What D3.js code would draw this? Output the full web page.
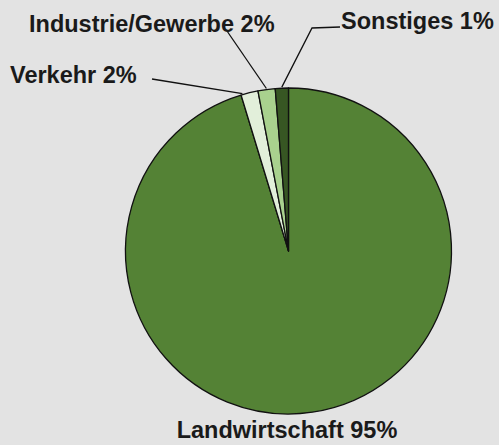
<!DOCTYPE html>
<html>
<head>
<meta charset="utf-8">
<script src="https://cdn.jsdelivr.net/npm/d3@7"></script>
<style>
  html, body { margin: 0; padding: 0; background: #e3e3e3; }
  svg { display: block; }
  text { font-family: "Liberation Sans", Arial, sans-serif; font-weight: bold; fill: #1a1a1a; }
</style>
</head>
<body>
<div id="chart"></div>
<script>
var w = 499, h = 445;

// data
var categories = ["Landwirtschaft", "Verkehr", "Industrie/Gewerbe", "Sonstiges"];
var values = [95.3, 1.7, 1.7, 1.3];
var labels = ["Landwirtschaft 95%", "Verkehr 2%", "Industrie/Gewerbe 2%", "Sonstiges 1%"];
var colors = ["#548235", "#e2efda", "#a9d18e", "#375623"];

// label layout (x, y of text, anchor, leader start, where the leader hits the slice)
var labelPos = [
  {x: 287, y: 438, anchor: "middle", line: null, t: 0.5},
  {x: 10, y: 83, anchor: "start", line: [[152, 79]], t: 0.1},
  {x: 29, y: 32, anchor: "start", line: [[227, 31]], t: 0.5},
  {x: 341, y: 29, anchor: "start", line: [[340, 27], [312, 28]], t: 0.5}
];

var cx = 288.5, cy = 251, r = 163;

var svg = d3.select("#chart")
  .append("svg")
  .attr("width", w)
  .attr("height", h);

svg.append("rect")
  .attr("width", w)
  .attr("height", h)
  .style("fill", "#e3e3e3");

var pie = d3.pie().sort(null).value(function(d) { return d; });
var arcs = pie(values);
var arc = d3.arc().innerRadius(0).outerRadius(r);

var g = svg.append("g")
  .attr("transform", "translate(" + cx + "," + cy + ")");

g.selectAll(".slice")
  .data(arcs)
  .enter()
  .append("path")
  .attr("class", "slice")
  .attr("d", arc)
  .style("fill", function(d, i) { return colors[i]; })
  .style("stroke", "#111")
  .style("stroke-width", 1.3)
  .style("stroke-linejoin", "round");

// leader lines
arcs.forEach(function(d, i) {
  var p = labelPos[i];
  if (!p.line) return;
  var a = d.startAngle + (d.endAngle - d.startAngle) * p.t;
  var end = [cx + (r + 1) * Math.sin(a), cy - (r + 1) * Math.cos(a)];
  var pts = p.line.concat([end]);
  svg.append("path")
    .attr("d", d3.line()(pts))
    .style("fill", "none")
    .style("stroke", "#111")
    .style("stroke-width", 1.3);
});

svg.selectAll(".lbl")
  .data(labels)
  .enter()
  .append("text")
  .attr("class", "lbl")
  .attr("x", function(d, i) { return labelPos[i].x; })
  .attr("y", function(d, i) { return labelPos[i].y; })
  .attr("text-anchor", function(d, i) { return labelPos[i].anchor; })
  .style("font-size", "23.5px")
  .text(function(d) { return d; });
</script>
</body>
</html>
